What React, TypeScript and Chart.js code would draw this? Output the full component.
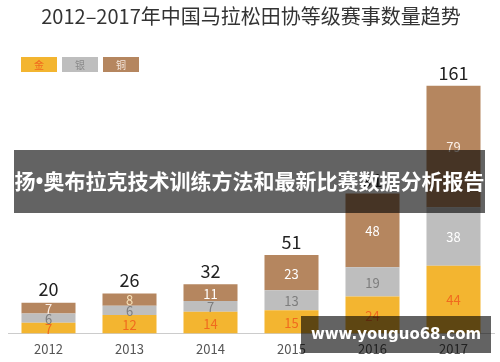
import React, { useEffect, useRef } from "react";
import { Chart, registerables } from "chart.js";

Chart.register(...registerables);

const years = ["2012", "2013", "2014", "2015", "2016", "2017"];
const gold = [7, 12, 14, 15, 24, 44];
const silver = [6, 6, 7, 13, 19, 38];
const bronze = [7, 8, 11, 23, 48, 79];
const totals = [20, 26, 32, 51, 91, 161];
const seriesNames = ["金", "银", "铜"];
const titleText = "2012–2017年中国马拉松田协等级赛事数量趋势";
const bannerText = "扬•奥布拉克技术训练方法和最新比赛数据分析报告";
const watermarkText = "www.youguo68.com";

const COLORS = ["#F3B530", "#BEBEBE", "#B5865F"];
const SILVER_LABEL = ["#7d7d7d", "#7d7d7d", "#7d7d7d", "#7d7d7d", "#7d7d7d", "#ffffff"];
const BRONZE_LABEL = ["#fbefe6", "#f7e2b8", "#ffffff", "#ffffff", "#ffffff", "#fbefe6"];
const GOLD_LABEL = "#F06A1E";
const FONT = "'Noto Sans CJK SC', 'Noto Sans', sans-serif";

const labelPlugin = {
  id: "segLabels",
  afterDatasetsDraw(chart: any) {
    const ctx = chart.ctx;
    ctx.save();
    ctx.textAlign = "center";
    ctx.textBaseline = "middle";
    chart.data.datasets.forEach((ds: any, di: number) => {
      const meta = chart.getDatasetMeta(di);
      meta.data.forEach((bar: any, i: number) => {
        const y = (bar.y + bar.base) / 2;
        ctx.font = `13px ${FONT}`;
        ctx.fillStyle = di === 0 ? GOLD_LABEL : di === 1 ? SILVER_LABEL[i] : BRONZE_LABEL[i];
        ctx.fillText(String(ds.data[i]), bar.x, y + 1);
        if (di === chart.data.datasets.length - 1) {
          ctx.font = `18px ${FONT}`;
          ctx.fillStyle = "#222222";
          ctx.fillText(String(totals[i]), bar.x, bar.y - 13);
        }
      });
    });
    // legend
    const boxW = 36, boxH = 15, gap = 5, lx = 21, ly = 57;
    seriesNames.forEach((n, k) => {
      const x = lx + k * (boxW + gap);
      ctx.fillStyle = COLORS[k];
      ctx.fillRect(x, ly, boxW, boxH);
      ctx.font = `10px ${FONT}`;
      ctx.fillStyle = k === 0 ? GOLD_LABEL : k === 1 ? "#8a8a8a" : "#f4e6dc";
      ctx.fillText(n, x + boxW / 2, ly + boxH / 2 + 0.5);
    });
    ctx.restore();
  },
};

export default function App() {
  const ref = useRef<HTMLCanvasElement>(null);
  useEffect(() => {
    if (!ref.current) return;
    const chart = new Chart(ref.current, {
      type: "bar",
      data: {
        labels: years,
        datasets: [
          { label: seriesNames[0], data: gold, backgroundColor: COLORS[0] },
          { label: seriesNames[1], data: silver, backgroundColor: COLORS[1] },
          { label: seriesNames[2], data: bronze, backgroundColor: COLORS[2] },
        ],
      },
      options: {
        responsive: false,
        animation: false,
        maintainAspectRatio: false,
        datasets: { bar: { barPercentage: 0.667, categoryPercentage: 1 } },
        layout: { padding: { left: 8, right: 6, top: 0, bottom: 1 } },
        plugins: {
          legend: { display: false },
          tooltip: { enabled: false },
          title: {
            display: true,
            text: titleText,
            color: "#333333",
            font: { size: 20, family: FONT, weight: "normal" },
            padding: { top: 4, bottom: 10 },
          },
        },
        scales: {
          x: {
            stacked: true,
            grid: { display: false, drawTicks: false },
            border: { display: true, color: "#cccccc" },
            ticks: { color: "#555555", font: { size: 13, family: FONT }, padding: 8 },
          },
          y: {
            stacked: true,
            display: false,
            min: 0,
            max: 192,
          },
        },
      },
      plugins: [labelPlugin],
    });
    return () => chart.destroy();
  }, []);

  const overlay = "rgba(0,0,0,0.61)";
  return (
    <div style={{ position: "fixed", left: 0, top: 0, width: 500, height: 362, background: "#fff", overflow: "hidden" }}>
      <canvas ref={ref} width={500} height={366} style={{ display: "block" }} />
      <div
        style={{
          position: "absolute", left: 14, top: 150, width: 471, height: 63, background: overlay,
          color: "#fff", fontFamily: "'Noto Sans', 'Noto Sans CJK SC', sans-serif", fontWeight: "bold",
          fontSize: 21, lineHeight: "63px", textAlign: "center", whiteSpace: "nowrap",
        }}
      >
        {bannerText}
      </div>
      <div
        style={{
          position: "absolute", left: 301, top: 316, width: 190, height: 37, background: overlay,
          color: "#fff", fontFamily: "'DejaVu Sans', sans-serif", fontWeight: "bold", fontSize: 15,
          lineHeight: "37px", textAlign: "center", whiteSpace: "nowrap",
        }}
      >
        {watermarkText}
      </div>
    </div>
  );
}
